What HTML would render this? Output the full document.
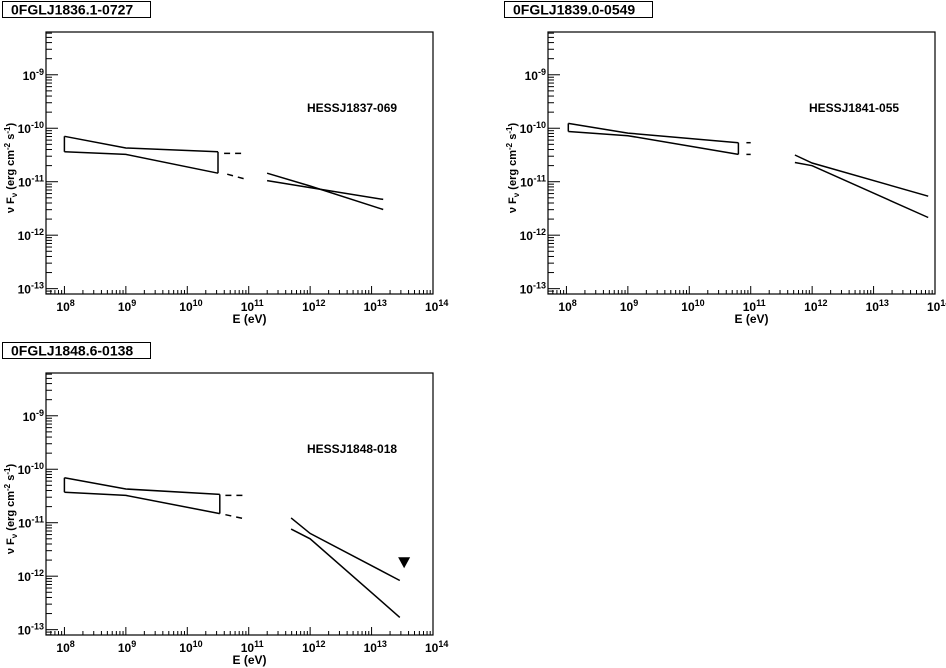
<!DOCTYPE html>
<html><head><meta charset="utf-8"><style>
body{margin:0;background:#fff;}
svg{display:block;font-family:"Liberation Sans",Arial,sans-serif;font-weight:bold;}
</style></head><body>
<svg id="c" width="946" height="668" viewBox="0 0 946 668" xmlns="http://www.w3.org/2000/svg"></svg>
<script>
// panel names
const titles = ["0FGLJ1836.1-0727","0FGLJ1839.0-0549","0FGLJ1848.6-0138"];
const hessNames = ["HESSJ1837-069","HESSJ1841-055","HESSJ1848-018"];
// log10(E) / log10(nuFnu) data
const fermiUpperE = [[8,9,10.5],[8.03,9,10.8],[8,9,10.53]];
const fermiUpperF = [[-10.15,-10.37,-10.44],[-9.91,-10.09,-10.27],[-10.16,-10.37,-10.47]];
const fermiLowerE = [[8,9,10.5],[8.03,9,10.8],[8,9,10.53]];
const fermiLowerF = [[-10.44,-10.49,-10.84],[-10.06,-10.14,-10.49],[-10.43,-10.49,-10.83]];
const dashUpperE = [[10.6,10.95],[10.93,11.0],[10.62,10.95]];
const dashUpperF = [[-10.47,-10.47],[-10.27,-10.27],[-10.49,-10.49]];
const dashLowerE = [[10.65,10.94],[10.93,11.0],[10.62,10.95]];
const dashLowerF = [[-10.86,-10.95],[-10.49,-10.49],[-10.85,-10.93]];
const hessUpperE = [[11.3,12,13.19],[11.72,12,13.89],[11.69,12,13.46]];
const hessUpperF = [[-10.84,-11.08,-11.52],[-10.50,-10.65,-11.27],[-10.91,-11.20,-12.08]];
const hessLowerE = [[11.3,12,13.19],[11.72,12,13.89],[11.69,12,13.46]];
const hessLowerF = [[-10.98,-11.11,-11.33],[-10.64,-10.70,-11.67],[-11.12,-11.30,-12.77]];
const upperLimitE = [null,null,13.53];
const upperLimitF = [null,null,-11.74];
const xTickExp = [8,9,10,11,12,13,14];
const yTickExp = [-9,-10,-11,-12,-13];

const NS="http://www.w3.org/2000/svg";
const svg=document.getElementById('c');
function mk(t,a,p){const e=document.createElementNS(NS,t);for(const k in a)e.setAttribute(k,a[k]);(p||svg).appendChild(e);return e;}
const offsets=[[0,0],[502,0],[0,341]];
const X0=46,X1=433,Y0=32,Y1=294;
const xMin=7.7,xMax=14, yTop=-8.2, yBot=-13.1;

offsets.forEach((o,i)=>{
  const g=mk('g',{transform:`translate(${o[0]},${o[1]})`});
  
  
  const sx=v=>X0+(v-xMin)/(xMax-xMin)*(X1-X0);
  const sy=v=>Y0+(yTop-v)/(yTop-yBot)*(Y1-Y0);
  const tb=mk('g',{},g);
  
  
  mk('rect',{x:2.5,y:1.5,width:148,height:16,fill:'#fff',stroke:'#000','stroke-width':1},tb);
  const tt=mk('text',{x:11,y:14.5,'font-size':14},tb);tt.textContent=titles[i];
  const fr=mk('rect',{x:X0,y:Y0,width:X1-X0,height:Y1-Y0,fill:'none',stroke:'#000','stroke-width':1.2},g);
  
  
  const xa=mk('g',{stroke:'#000','stroke-width':1},g);
  
  
  for(let d=7;d<14;d++)for(let m=1;m<10;m++){const v=d+Math.log10(m);if(v<xMin||v>xMax)continue;const x=sx(v);mk('line',{x1:x,x2:x,y1:Y1,y2:Y1-(m==1?8:4)},xa);}
  xTickExp.forEach(e=>{const t=mk('text',{x:sx(e)-8,y:Y1+17,'font-size':12,stroke:'none'},g);t.innerHTML=`10<tspan dy="-5" font-size="9">${e}</tspan>`;
    });
  const xt=mk('text',{x:(X0+X1)/2+10,y:Y1+29,'font-size':12,'text-anchor':'middle'},g);xt.textContent='E (eV)';
  
  const ya=mk('g',{stroke:'#000','stroke-width':1},g);
  
  
  for(let d=-14;d<-8;d++)for(let m=1;m<10;m++){const v=d+Math.log10(m);if(v>yTop||v<yBot)continue;const y=sy(v);mk('line',{x1:X0,x2:X0+(m==1?12:6),y1:y,y2:y},ya);}
  yTickExp.forEach(e=>{const t=mk('text',{x:X0-2,y:sy(e)+5,'font-size':12,'text-anchor':'end',stroke:'none'},g);t.innerHTML=`10<tspan dy="-5" font-size="9">${e}</tspan>`;
    });
  const yt=mk('text',{transform:`translate(14,${(Y0+Y1)/2+5}) rotate(-90)`,'font-size':11,'text-anchor':'middle'},g);
  yt.innerHTML='ν F<tspan dy="3" font-size="8">ν</tspan><tspan dy="-3"> (erg cm</tspan><tspan dy="-4" font-size="8">-2</tspan><tspan dy="4"> s</tspan><tspan dy="-4" font-size="8">-1</tspan><tspan dy="4">)</tspan>';
  
  const hl=mk('text',{x:307,y:112,'font-size':12},g);hl.textContent=hessNames[i];
  
  const pts=(E,F)=>E.map((e,k)=>sx(e).toFixed(1)+','+sy(F[k]).toFixed(1)).join(' ');
  const line=(E,F,name,dash)=>{const p=mk('polyline',{points:pts(E,F),fill:'none',stroke:'#000','stroke-width':1.5,'stroke-dasharray':dash||'none'},g);
    };
  line(fermiUpperE[i],fermiUpperF[i],'fermi-bowtie-upper');
  line(fermiLowerE[i],fermiLowerF[i],'fermi-bowtie-lower');
  line([fermiUpperE[i][0],fermiLowerE[i][0]],[fermiUpperF[i][0],fermiLowerF[i][0]],'fermi-bowtie-left');
  line([fermiUpperE[i][2],fermiLowerE[i][2]],[fermiUpperF[i][2],fermiLowerF[i][2]],'fermi-bowtie-right');
  line(dashUpperE[i],dashUpperF[i],'fermi-extrapolation-upper','6,5');
  line(dashLowerE[i],dashLowerF[i],'fermi-extrapolation-lower','6,5');
  line(hessUpperE[i],hessUpperF[i],'hess-bowtie-upper');
  line(hessLowerE[i],hessLowerF[i],'hess-bowtie-lower');
  if(upperLimitE[i]!==null){const x=sx(upperLimitE[i]),y=sy(upperLimitF[i]);
    const t=mk('polygon',{points:`${x-6},${y-5} ${x+6},${y-5} ${x},${y+6}`,fill:'#000'},g);
    }
});
</script>
</body></html>
